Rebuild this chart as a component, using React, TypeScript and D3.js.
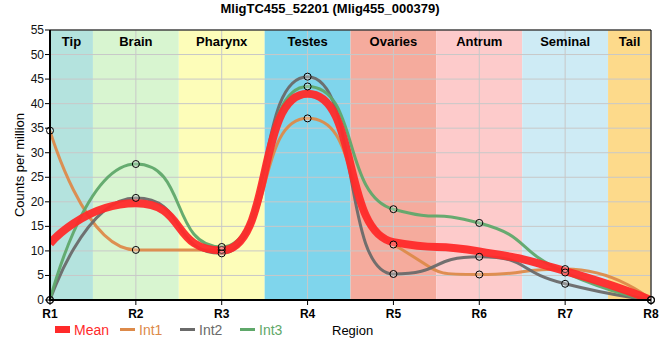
import React from "react";
import * as d3 from "d3";

const regions = ["R1", "R2", "R3", "R4", "R5", "R6", "R7", "R8"];
const bandNames = ["Tip", "Brain", "Pharynx", "Testes", "Ovaries", "Antrum", "Seminal", "Tail"];
const bandColors = ["#b4e3de", "#d8f5d0", "#fdfdb9", "#7fd5ec", "#f5ab9d", "#fdcbcb", "#ceebf5", "#fdda8b"];
const int1 = [34.5, 10.2, 10.2, 37.0, 11.3, 5.2, 6.3, 0];
const int2 = [0, 20.8, 9.5, 45.5, 5.3, 8.8, 3.3, 0];
const int3 = [0, 27.7, 10.8, 43.5, 18.5, 15.7, 5.6, 0];
const mean = [11.5, 19.7, 10.1, 42.0, 11.8, 9.9, 5.9, 0];
const yTicks = [0, 5, 10, 15, 20, 25, 30, 35, 40, 45, 50, 55];
const seriesNames = ["Mean", "Int1", "Int2", "Int3"];
const seriesColors = ["#ff2a2a", "#dd8a4a", "#6a6a6a", "#5fa86a"];

const W = 660, H = 360;
const L = 50, R = 651, T = 30, B = 300;
const FONT = "'Liberation Sans', Arial, sans-serif";

// Spline with long collinear handles, clamped to avoid false extremes
function splinePath(pts: [number, number][], f = 0.6): string {
  const n = pts.length;
  const lc: [number, number][] = [];
  const rc: [number, number][] = [];
  for (let i = 0; i < n; i++) {
    const [px, py] = pts[i];
    if (i > 0 && i < n - 1) {
      const [lx, ly] = pts[i - 1];
      const [nx, ny] = pts[i + 1];
      const lcx = px + f * (lx - px);
      let lcy = py + f * (ly - py);
      const rcx = px + f * (nx - px);
      let rcy = py + f * (ny - py);
      let corr = 0;
      if (rcx !== lcx) corr = ((rcy - lcy) * (rcx - px)) / (rcx - lcx) + py - rcy;
      lcy += corr;
      rcy += corr;
      if (lcy > ly && lcy > py) { lcy = Math.max(ly, py); rcy = 2 * py - lcy; }
      else if (lcy < ly && lcy < py) { lcy = Math.min(ly, py); rcy = 2 * py - lcy; }
      if (rcy > ny && rcy > py) { rcy = Math.max(ny, py); lcy = 2 * py - rcy; }
      else if (rcy < ny && rcy < py) { rcy = Math.min(ny, py); lcy = 2 * py - rcy; }
      lc.push([lcx, lcy]);
      rc.push([rcx, rcy]);
    } else {
      lc.push([px, py]);
      rc.push([px, py]);
    }
  }
  const p = d3.path();
  p.moveTo(pts[0][0], pts[0][1]);
  for (let i = 1; i < n; i++) {
    p.bezierCurveTo(rc[i - 1][0], rc[i - 1][1], lc[i][0], lc[i][1], pts[i][0], pts[i][1]);
  }
  return p.toString();
}

export default function App() {
  const x = d3.scaleLinear().domain([0, regions.length - 1]).range([L, R]);
  const y = d3.scaleLinear().domain([0, 55]).range([B, T]);
  const toPts = (s: number[]) => s.map((v, i) => [x(i), y(v)] as [number, number]);

  const ints = [int1, int2, int3];

  return (
    <svg
      width={W}
      height={H}
      style={{ position: "absolute", left: 0, top: 0, fontFamily: FONT }}
    >
      <defs>
        <clipPath id="plot">
          <rect x={L} y={T} width={R - L} height={B - T} />
        </clipPath>
      </defs>
      <text x={W / 2} y={13} textAnchor="middle" fontSize={13} fontWeight="bold">
        MligTC455_52201 (Mlig455_000379)
      </text>
      {bandNames.map((name, i) => {
        const x0 = Math.max(L, x(i - 0.5));
        const x1 = Math.min(R, x(i + 0.5));
        return <rect key={name} x={x0} y={T} width={x1 - x0} height={B - T} fill={bandColors[i]} />;
      })}
      {yTicks.map((t) => (
        <line key={"gy" + t} x1={L} x2={R} y1={y(t)} y2={y(t)} stroke="#c8c8c8" strokeWidth={1} />
      ))}
      {regions.map((r, i) => (
        <line key={"gx" + r} x1={x(i)} x2={x(i)} y1={T} y2={B} stroke="#c8c8c8" strokeWidth={1} />
      ))}
      {bandNames.map((name, i) => {
        const x0 = Math.max(L, x(i - 0.5));
        const x1 = Math.min(R, x(i + 0.5));
        return (
          <text key={"bl" + name} x={(x0 + x1) / 2} y={46} textAnchor="middle" fontSize={13} fontWeight="bold">
            {name}
          </text>
        );
      })}
      <g clipPath="url(#plot)">
        {ints.map((s, k) => (
          <path key={"l" + k} d={splinePath(toPts(s))} fill="none" stroke={seriesColors[k + 1]} strokeWidth={3} strokeOpacity={0.95} />
        ))}
        <path d={splinePath(toPts(mean))} fill="none" stroke={seriesColors[0]} strokeWidth={8} strokeOpacity={0.95} />
      </g>
      {ints.map((s, k) =>
        s.map((v, i) => (
          <circle key={"c" + k + "-" + i} cx={x(i)} cy={y(v)} r={3.5} fill="rgba(255,255,255,0.25)" stroke="#000" strokeWidth={1} />
        ))
      )}
      <line x1={L} x2={R} y1={T} y2={T} stroke="#000" strokeWidth={1} />
      <line x1={R} x2={R} y1={T} y2={B} stroke="#000" strokeWidth={1} />
      <line x1={L} x2={L} y1={T} y2={B + 1} stroke="#000" strokeWidth={2} />
      <line x1={L - 1} x2={R} y1={B} y2={B} stroke="#000" strokeWidth={2} />
      {yTicks.map((t) => (
        <g key={"yt" + t}>
          <line x1={L - 5} x2={L} y1={y(t)} y2={y(t)} stroke="#000" strokeWidth={1} />
          <text x={L - 6} y={y(t) + 4} textAnchor="end" fontSize={12} fill="#111">
            {t}
          </text>
        </g>
      ))}
      {regions.map((r, i) => (
        <g key={"xt" + r}>
          <line x1={x(i)} x2={x(i)} y1={B} y2={B + 5} stroke="#000" strokeWidth={1} />
          <text x={x(i)} y={B + 18} textAnchor="middle" fontSize={12} fontWeight="bold">
            {r}
          </text>
        </g>
      ))}
      <text transform={`translate(24,${(T + B) / 2}) rotate(-90)`} textAnchor="middle" fontSize={13}>
        Counts per million
      </text>
      <text x={332} y={335} fontSize={13}>
        Region
      </text>
      {seriesNames.map((n, k) => {
        const lx = k === 0 ? 55 : 120 + (k - 1) * 60;
        return (
          <g key={"lg" + n}>
            {k === 0 ? (
              <rect x={lx} y={326} width={15} height={7} fill={seriesColors[0]} />
            ) : (
              <line x1={lx} x2={lx + 15} y1={329.5} y2={329.5} stroke={seriesColors[k]} strokeWidth={3} />
            )}
            <text x={lx + 19} y={334.5} fontSize={14} fill={seriesColors[k]}>
              {n}
            </text>
          </g>
        );
      })}
    </svg>
  );
}
